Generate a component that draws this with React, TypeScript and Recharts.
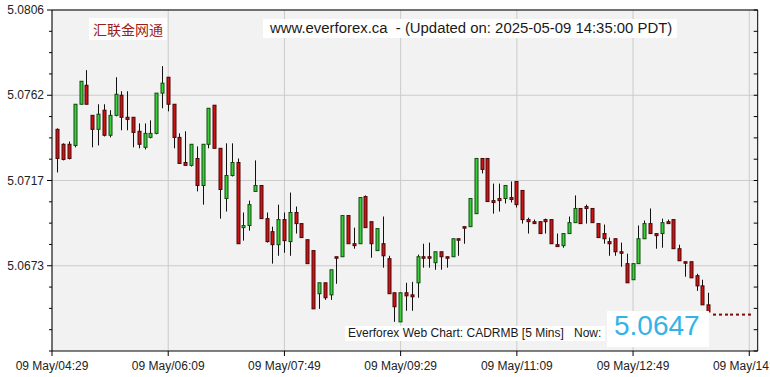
import React from "react";
import { ComposedChart, Bar, XAxis, YAxis, CartesianGrid, ReferenceLine } from "recharts";

// 5-minute candles, slot 1..120 (slot 0 = 09 May 04:29)
const opens = [
  5.07437, 5.07359, 5.07359, 5.07353, 5.07568, 5.07667, 5.0751, 5.07437, 5.07537, 5.07406,
  5.0751, 5.07615, 5.075, 5.075, 5.07427, 5.07343, 5.07395, 5.07416, 5.07626, 5.07709,
  5.07568, 5.07395, 5.07264, 5.07249, 5.07285, 5.07144, 5.07359, 5.07563, 5.07338, 5.07076,
  5.07196, 5.07264, 5.06924, 5.06935, 5.07113, 5.07144, 5.06971, 5.06903, 5.06835, 5.06966,
  5.06851, 5.07003, 5.06945, 5.06861, 5.06804, 5.06579, 5.06636, 5.06573, 5.06772, 5.06772,
  5.06987, 5.0684, 5.0684, 5.07086, 5.06955, 5.06804, 5.0684, 5.06762, 5.06584, 5.06432,
  5.06584, 5.06573, 5.06636, 5.06772, 5.06772, 5.06741, 5.06798, 5.06772, 5.06772, 5.06866,
  5.06929, 5.06929, 5.06997, 5.07285, 5.07285, 5.07065, 5.07076, 5.07076, 5.07081, 5.07165,
  5.07118, 5.06966, 5.06955, 5.06955, 5.06966, 5.06966, 5.06835, 5.0683, 5.06893, 5.0695,
  5.07024, 5.07034, 5.07024, 5.06945, 5.06893, 5.06851, 5.06866, 5.06798, 5.06736, 5.06652,
  5.06736, 5.06866, 5.06945, 5.06893, 5.06893, 5.06955, 5.06966, 5.06814, 5.06746, 5.06746,
  5.06673, 5.0662, 5.06521, 5.0647, 5.0647, 5.0647, 5.0647, 5.0647, 5.0647, 5.0647,
];
const closes = [
  5.07285, 5.0728, 5.07285, 5.07568, 5.07688, 5.07568, 5.07437, 5.07516, 5.07406, 5.0751,
  5.0762, 5.075, 5.07489, 5.07421, 5.07359, 5.07416, 5.07416, 5.07626, 5.07678, 5.07568,
  5.07395, 5.07259, 5.07249, 5.07359, 5.07144, 5.07359, 5.07547, 5.07338, 5.07123, 5.07196,
  5.07264, 5.0684, 5.06935, 5.07044, 5.07144, 5.06971, 5.06851, 5.06835, 5.06966, 5.06856,
  5.07003, 5.06945, 5.06872, 5.06736, 5.065, 5.06636, 5.06558, 5.06704, 5.06767, 5.06987,
  5.0684, 5.0683, 5.07081, 5.06924, 5.0684, 5.06919, 5.06777, 5.06579, 5.06511, 5.06584,
  5.06568, 5.06563, 5.06772, 5.06767, 5.06767, 5.06798, 5.06772, 5.06767, 5.06866, 5.06861,
  5.06924, 5.07076, 5.07285, 5.07228, 5.0706, 5.07055, 5.07065, 5.07144, 5.07071, 5.07044,
  5.06966, 5.06955, 5.06945, 5.06893, 5.06955, 5.0684, 5.06825, 5.06893, 5.0695, 5.07024,
  5.06945, 5.07024, 5.0695, 5.06872, 5.06866, 5.0684, 5.06798, 5.06793, 5.06636, 5.06736,
  5.06866, 5.06945, 5.06893, 5.06882, 5.0695, 5.06945, 5.06814, 5.06751, 5.06741, 5.06662,
  5.0662, 5.06521, 5.06484, 5.0647, 5.0647, 5.0647, 5.0647, 5.0647, 5.0647, 5.0647,
];
const highs = [
  5.07442, 5.07364, 5.07374, 5.07568, 5.07688, 5.07746, 5.0751, 5.07568, 5.07568, 5.07537,
  5.07709, 5.07636, 5.07636, 5.075, 5.07468, 5.07468, 5.07484, 5.07626, 5.07767, 5.07709,
  5.07568, 5.07416, 5.07427, 5.07359, 5.07348, 5.07359, 5.07547, 5.07563, 5.07338, 5.07364,
  5.07364, 5.07285, 5.07003, 5.07065, 5.07275, 5.07144, 5.07003, 5.06929, 5.07044, 5.07003,
  5.07107, 5.07034, 5.06945, 5.06861, 5.06804, 5.06636, 5.06636, 5.06704, 5.06772, 5.06987,
  5.06987, 5.06924, 5.07081, 5.07092, 5.06955, 5.06919, 5.06982, 5.06777, 5.06584, 5.06584,
  5.06636, 5.06641, 5.06783, 5.0684, 5.06846, 5.06798, 5.06798, 5.06772, 5.06866, 5.06866,
  5.06929, 5.07076, 5.07285, 5.07285, 5.07285, 5.07154, 5.07154, 5.07144, 5.07165, 5.07165,
  5.07118, 5.06976, 5.06966, 5.06955, 5.06971, 5.06966, 5.06893, 5.06893, 5.06982, 5.07092,
  5.07024, 5.07044, 5.07024, 5.06945, 5.0694, 5.06872, 5.06866, 5.06846, 5.06788, 5.06736,
  5.06935, 5.06961, 5.07024, 5.06893, 5.06971, 5.06966, 5.06966, 5.06835, 5.06746, 5.06746,
  5.06683, 5.06652, 5.06584, 5.0647, 5.0647, 5.0647, 5.0647, 5.0647, 5.0647, 5.0647,
];
const lows = [
  5.07212, 5.07275, 5.0728, 5.07343, 5.07568, 5.07568, 5.07343, 5.07353, 5.074, 5.07395,
  5.07505, 5.07432, 5.07432, 5.07343, 5.07338, 5.07332, 5.0739, 5.07411, 5.07547, 5.07531,
  5.07338, 5.07259, 5.07249, 5.07243, 5.07113, 5.07044, 5.07338, 5.07338, 5.06971, 5.07008,
  5.07191, 5.0684, 5.06856, 5.06908, 5.07113, 5.06971, 5.06846, 5.06736, 5.06777, 5.06793,
  5.06777, 5.06893, 5.06872, 5.06736, 5.065, 5.065, 5.06547, 5.06547, 5.06631, 5.06772,
  5.0684, 5.06814, 5.0684, 5.06924, 5.06767, 5.06804, 5.06715, 5.06579, 5.06432, 5.06432,
  5.0649, 5.0649, 5.06558, 5.06715, 5.06715, 5.06704, 5.06704, 5.06715, 5.06772, 5.06777,
  5.0684, 5.06929, 5.06997, 5.07207, 5.0706, 5.06997, 5.07008, 5.0705, 5.07055, 5.07029,
  5.06945, 5.06893, 5.06945, 5.06893, 5.06893, 5.0684, 5.06825, 5.06819, 5.06893, 5.0695,
  5.06945, 5.06945, 5.0695, 5.06872, 5.0684, 5.06777, 5.06777, 5.0672, 5.06636, 5.06652,
  5.06736, 5.06866, 5.06893, 5.06814, 5.06819, 5.06945, 5.06814, 5.06751, 5.06668, 5.06662,
  5.06594, 5.06521, 5.06474, 5.0647, 5.0647, 5.0647, 5.0647, 5.0647, 5.0647, 5.0647,
];

const xTicks = [0, 20, 40, 60, 80, 100, 120];
const xLabels = [
  "09 May/04:29", "09 May/06:09", "09 May/07:49", "09 May/09:29",
  "09 May/11:09", "09 May/12:49", "09 May/14:29",
];
const yTicks = [
  5.0806, 5.0794875, 5.078375, 5.0772625, 5.07615, 5.0750375, 5.073925, 5.0728125, 5.0717,
  5.0705875, 5.069475, 5.0683625, 5.06725, 5.0661375, 5.065025, 5.0639125, 5.0628,
];
const yMajor = [5.0806, 5.07615, 5.0717, 5.06725];
const yMajorLabels = ["5.0806", "5.0762", "5.0717", "5.0673"];
const yDomain: [number, number] = [5.0628, 5.0806];
const xDomain: [number, number] = [0, 121.45];

const nowValue = "5.0647";
const titleText = "www.everforex.ca  - (Updated on: 2025-05-09 14:35:00 PDT)";
const brandText = "汇联金网通";
const footerText = "Everforex Web Chart: CADRMB [5 Mins]";
const nowLabel = "Now:";

const data = opens.map((o, i) => ({
  slot: i + 1,
  open: o,
  close: closes[i],
  high: highs[i],
  low: lows[i],
}));

const FONT = "'Liberation Sans', Arial, sans-serif";

const Candle = (props: any) => {
  const { x, y, width, height, payload } = props;
  if (!payload || x == null) return null;
  const { open, close, high, low } = payload;
  const cx = Math.round(x + width / 2) + 0.5;
  if (high === low) {
    return <rect x={cx - 1.5} y={y - 1} width={3} height={2} fill="#7a0c0c" />;
  }
  const k = height / (high - low);
  const py = (v: number) => y + (high - v) * k;
  const up = close > open;
  const top = py(Math.max(open, close));
  const bot = py(Math.min(open, close));
  const h = Math.max(bot - top, 1.5);
  return (
    <g>
      <line x1={cx} x2={cx} y1={y} y2={y + height} stroke="#111" strokeWidth={1} />
      <rect
        x={cx - 1.5}
        y={top}
        width={3}
        height={h}
        fill={up ? "#3ccc3c" : "#cc1414"}
        stroke={up ? "#0d4d0d" : "#4a0606"}
        strokeWidth={1}
      />
    </g>
  );
};

const LeftTick = (props: any) => {
  const { x, y, payload } = props;
  const idx = yMajor.findIndex((v) => Math.abs(v - payload.value) < 1e-7);
  const major = idx >= 0;
  return (
    <g>
      <line x1={x - (major ? 5 : 3)} x2={x} y1={y} y2={y} stroke="#000" />
      {major && (
        <text x={x - 8} y={y + 4} textAnchor="end" fontSize={12} fill="#222" fontFamily={FONT}>
          {yMajorLabels[idx]}
        </text>
      )}
    </g>
  );
};

const RightTick = (props: any) => {
  const { x, y } = props;
  return <line x1={x - 4} x2={x} y1={y} y2={y} stroke="#000" />;
};

const BottomTick = (props: any) => {
  const { x, y, payload } = props;
  const idx = xTicks.indexOf(payload.value);
  return (
    <g>
      <line x1={x} x2={x} y1={y} y2={y + 5} stroke="#000" />
      <text x={x} y={y + 19} textAnchor="middle" fontSize={12} fill="#222" fontFamily={FONT}>
        {xLabels[idx]}
      </text>
    </g>
  );
};

export default function App() {
  return (
    <div style={{ position: "absolute", left: 0, top: 0, width: 770, height: 377, background: "#fff", overflow: "hidden" }}>
      <ComposedChart
        width={770}
        height={377}
        data={data}
        margin={{ top: 10, right: 0, bottom: 0, left: 0 }}
      >
        <CartesianGrid
          fill="#f2f2f2"
          stroke="#cbcbcb"
          horizontalValues={yMajor}
          verticalValues={xTicks}
        />
        <XAxis
          dataKey="slot"
          type="number"
          domain={xDomain}
          ticks={xTicks}
          allowDataOverflow
          height={26}
          tickSize={0}
          tickMargin={0}
          tickLine={false}
          axisLine={{ stroke: "#000" }}
          tick={<BottomTick />}
          interval={0}
        />
        <YAxis
          domain={yDomain}
          ticks={yTicks}
          allowDataOverflow
          width={52}
          tickSize={0}
          tickMargin={0}
          tickLine={false}
          axisLine={{ stroke: "#000" }}
          tick={<LeftTick />}
          interval={0}
        />
        <YAxis
          yAxisId="r"
          orientation="right"
          domain={yDomain}
          ticks={yTicks}
          allowDataOverflow
          width={12.3}
          tickSize={0}
          tickMargin={0}
          tickLine={false}
          axisLine={{ stroke: "#000" }}
          tick={<RightTick />}
          interval={0}
        />
        <ReferenceLine y={5.0806} stroke="#000" />
        <Bar
          dataKey={(d: any) => [d.low, d.high]}
          barSize={3}
          shape={<Candle />}
          isAnimationActive={false}
        />
      </ComposedChart>

      <div style={{ position: "absolute", left: 89, top: 18, width: 78, height: 22, background: "#fff", display: "flex", alignItems: "center", justifyContent: "center", fontFamily: "'Noto Sans CJK SC', sans-serif", fontSize: 14, color: "#9c1c1c" }}>
        {brandText}
      </div>
      <div style={{ position: "absolute", left: 263, top: 19, width: 414, height: 19, background: "#fff", fontFamily: FONT, fontSize: 14.9, color: "#1a1a1a", lineHeight: "19px", paddingLeft: 7, boxSizing: "border-box", whiteSpace: "pre" }}>
        {titleText}
      </div>
      <div style={{ position: "absolute", left: 345, top: 326, width: 260, height: 15, background: "#fff", fontFamily: FONT, fontSize: 12, color: "#1a1a1a", lineHeight: "15px", boxSizing: "border-box", whiteSpace: "pre" }}>
        <span style={{ position: "absolute", left: 3 }}>{footerText}</span>
        <span style={{ position: "absolute", left: 229 }}>{nowLabel}</span>
      </div>
      <div style={{ position: "absolute", left: 607, top: 311, width: 102, height: 36, background: "#fff", fontFamily: FONT, fontSize: 28, color: "#33b4e8", lineHeight: "29px", paddingLeft: 7, boxSizing: "border-box" }}>
        {nowValue}
      </div>
    </div>
  );
}
